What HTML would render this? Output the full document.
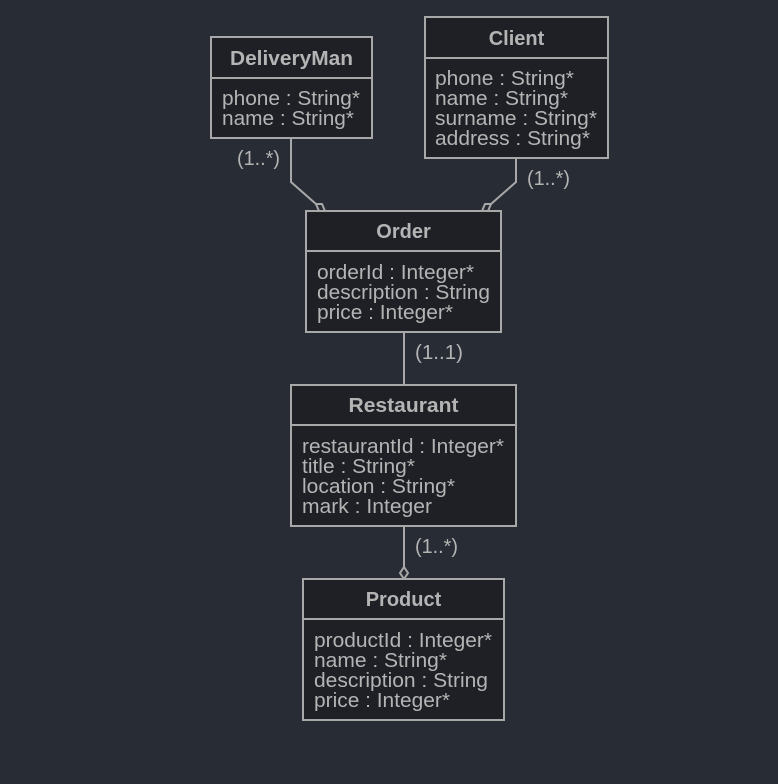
<!DOCTYPE html>
<html><head><style>
html,body{margin:0;padding:0;background:#282c34;}
svg{display:block}
text{font-family:"Liberation Sans",sans-serif;fill:#b4b4b4}
.h{font-weight:bold;font-size:20px;text-anchor:middle}
.a{font-size:20px}
.b{fill:#1e2026;stroke:#a8a8a8;stroke-width:2}
.l{stroke:#a8a8a8;stroke-width:2;fill:none}
</style></head><body>
<svg width="778" height="784" viewBox="0 0 778 784">
<rect width="778" height="784" fill="#282c34"/>
<path class="l" d="M291 138 V182 L316 204"/>
<path class="l" d="M316 204 L322 204 L325 211 L319 211 Z"/>
<path class="l" d="M516 158 V182 L491 204"/>
<path class="l" d="M491 204 L485 204 L482 211 L488 211 Z"/>
<path class="l" d="M404 332 V385"/>
<path class="l" d="M404 526 V567"/>
<path class="l" d="M404 567 L408 573 L404 579 L400 573 Z"/>
<text class="a" x="237" y="165" textLength="43" lengthAdjust="spacingAndGlyphs">(1..*)</text>
<text class="a" x="527" y="185" textLength="43" lengthAdjust="spacingAndGlyphs">(1..*)</text>
<text class="a" x="415" y="359" textLength="48" lengthAdjust="spacingAndGlyphs">(1..1)</text>
<text class="a" x="415" y="553" textLength="43" lengthAdjust="spacingAndGlyphs">(1..*)</text>
<rect class="b" x="211" y="37" width="161" height="101"/>
<line class="l" x1="211" y1="78" x2="372" y2="78"/>
<text class="h" x="291.5" y="65" textLength="123" lengthAdjust="spacingAndGlyphs">DeliveryMan</text>
<text class="a" x="222" y="105" textLength="138" lengthAdjust="spacingAndGlyphs">phone : String*</text>
<text class="a" x="222" y="125" textLength="132" lengthAdjust="spacingAndGlyphs">name : String*</text>
<rect class="b" x="425" y="17" width="183" height="141"/>
<line class="l" x1="425" y1="58" x2="608" y2="58"/>
<text class="h" x="516.5" y="45">Client</text>
<text class="a" x="435" y="85" textLength="139" lengthAdjust="spacingAndGlyphs">phone : String*</text>
<text class="a" x="435" y="105" textLength="133" lengthAdjust="spacingAndGlyphs">name : String*</text>
<text class="a" x="435" y="125" textLength="162" lengthAdjust="spacingAndGlyphs">surname : String*</text>
<text class="a" x="435" y="145" textLength="155" lengthAdjust="spacingAndGlyphs">address : String*</text>
<rect class="b" x="306" y="211" width="195" height="121"/>
<line class="l" x1="306" y1="251" x2="501" y2="251"/>
<text class="h" x="403.5" y="238">Order</text>
<text class="a" x="317" y="279" textLength="157" lengthAdjust="spacingAndGlyphs">orderId : Integer*</text>
<text class="a" x="317" y="299" textLength="173" lengthAdjust="spacingAndGlyphs">description : String</text>
<text class="a" x="317" y="319" textLength="136" lengthAdjust="spacingAndGlyphs">price : Integer*</text>
<rect class="b" x="291" y="385" width="225" height="141"/>
<line class="l" x1="291" y1="425" x2="516" y2="425"/>
<text class="h" x="403.5" y="412" textLength="110" lengthAdjust="spacingAndGlyphs">Restaurant</text>
<text class="a" x="302" y="453" textLength="202" lengthAdjust="spacingAndGlyphs">restaurantId : Integer*</text>
<text class="a" x="302" y="473" textLength="113" lengthAdjust="spacingAndGlyphs">title : String*</text>
<text class="a" x="302" y="493" textLength="153" lengthAdjust="spacingAndGlyphs">location : String*</text>
<text class="a" x="302" y="513" textLength="130" lengthAdjust="spacingAndGlyphs">mark : Integer</text>
<rect class="b" x="303" y="579" width="201" height="141"/>
<line class="l" x1="303" y1="619" x2="504" y2="619"/>
<text class="h" x="403.5" y="606">Product</text>
<text class="a" x="314" y="647" textLength="178" lengthAdjust="spacingAndGlyphs">productId : Integer*</text>
<text class="a" x="314" y="667" textLength="133" lengthAdjust="spacingAndGlyphs">name : String*</text>
<text class="a" x="314" y="687" textLength="174" lengthAdjust="spacingAndGlyphs">description : String</text>
<text class="a" x="314" y="707" textLength="136" lengthAdjust="spacingAndGlyphs">price : Integer*</text>
</svg>
</body></html>
